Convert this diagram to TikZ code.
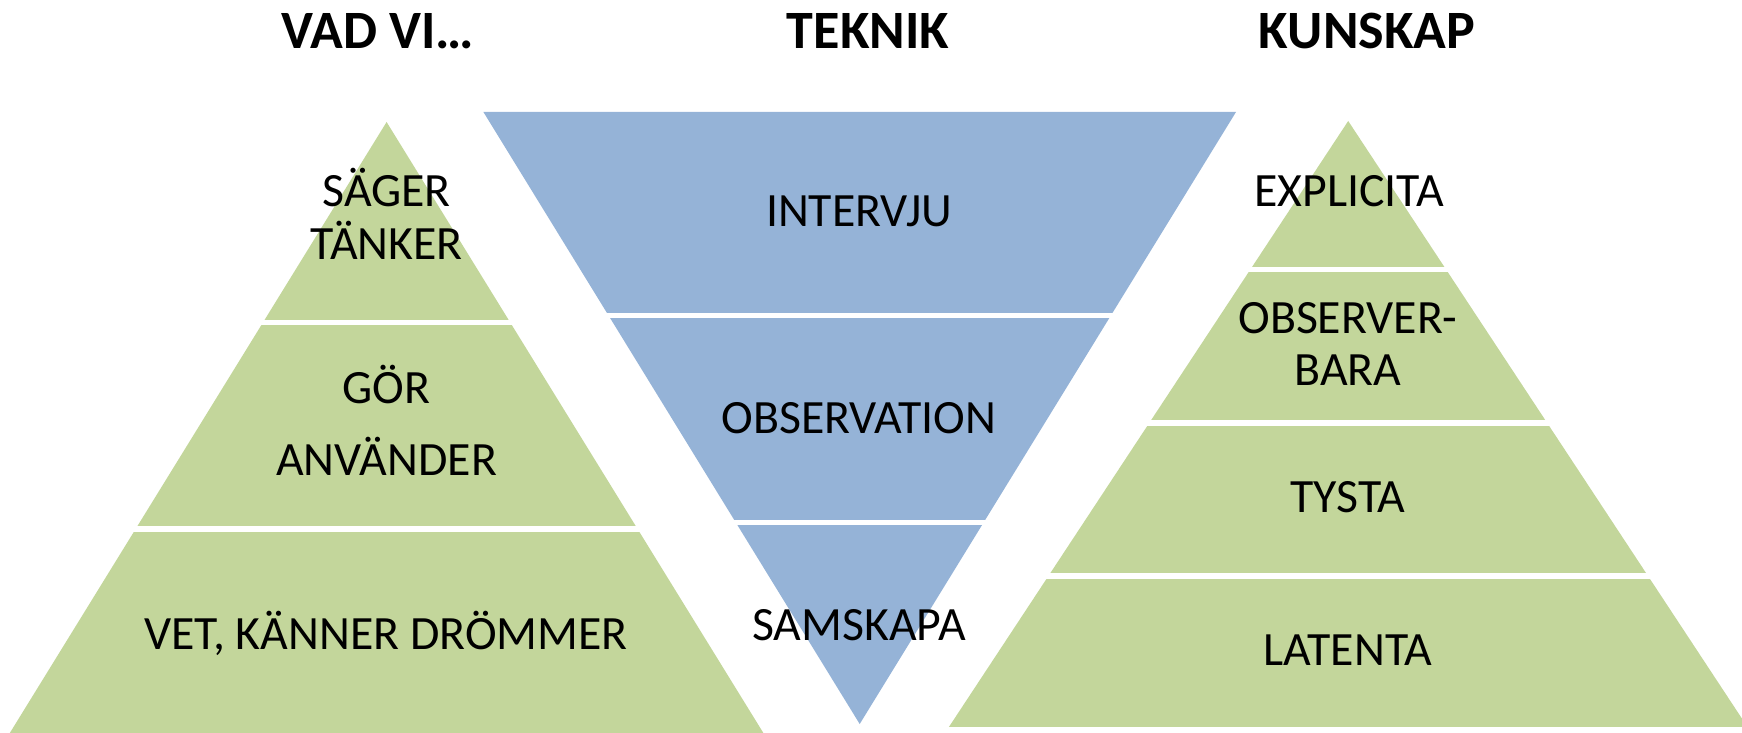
\documentclass[tikz,border=0pt]{standalone}
\usepackage{fontspec}
\setmainfont{Carlito}
\definecolor{pgreen}{HTML}{C3D69B}
\definecolor{pblue}{HTML}{95B3D7}
\begin{document}
\begin{tikzpicture}[x=1pt,y=-1pt,
  lbl/.style={anchor=base,inner sep=0pt,font=\fontsize{47.8pt}{55pt}\selectfont},
  ttl/.style={anchor=base,inner sep=0pt,font=\fontsize{54pt}{62pt}\selectfont\bfseries}]
\useasboundingbox (0,0) rectangle (1742,733);
\clip (0,0) rectangle (1742,733);
% left pyramid
\coordinate (LA) at (386.6,122);
\coordinate (LL) at (5.5,740);
\coordinate (LR) at (767.7,740);
\begin{scope}
\clip (LA) -- (LL) -- (LR) -- cycle;
\fill[pgreen] (0,100) rectangle (800,320);
\fill[pgreen] (0,325) rectangle (800,526);
\fill[pgreen] (0,532) rectangle (800,740);
\end{scope}
% blue inverted triangle
\coordinate (BL) at (483.4,112);
\coordinate (BR) at (1236,112);
\coordinate (BA) at (859.7,724);
\begin{scope}
\clip (BL) -- (BR) -- (BA) -- cycle;
\fill[pblue] (400,100) rectangle (1300,313);
\fill[pblue] (400,318) rectangle (1300,520);
\fill[pblue] (400,525) rectangle (1300,730);
\end{scope}
% right pyramid
\coordinate (RA) at (1348.2,121);
\coordinate (RL) at (948.9,727);
\coordinate (RR) at (1747.5,727);
\begin{scope}
\clip (RA) -- (RL) -- (RR) -- cycle;
\fill[pgreen] (900,100) rectangle (1760,266.5);
\fill[pgreen] (900,271.5) rectangle (1760,420);
\fill[pgreen] (900,425.5) rectangle (1760,573);
\fill[pgreen] (900,579) rectangle (1760,727);
\end{scope}
% titles
\node[ttl] (t1) at (378,49) {VAD VI…};
\node[ttl] (t2) at (868,49) {TEKNIK};
\node[ttl] (t3) at (1367,49) {KUNSKAP};
% left labels
\node[lbl] (l1a) at (386.6,206) {SÄGER};
\node[lbl] (l1b) at (386.6,259) {TÄNKER};
\node[lbl] (l2a) at (386.6,403) {GÖR};
\node[lbl] (l2b) at (386.6,475.5) {ANVÄNDER};
\node[lbl] (l3) at (386,649) {VET, KÄNNER DRÖMMER};
% middle labels
\node[lbl] (m1) at (859,226) {INTERVJU};
\node[lbl] (m2) at (859,433) {OBSERVATION};
\node[lbl] (m3) at (859,640) {SAMSKAPA};
% right labels
\node[lbl] (r1) at (1349,206) {EXPLICITA};
\node[lbl] (r2a) at (1348,333) {OBSERVER-};
\node[lbl] (r2b) at (1348,385.5) {BARA};
\node[lbl] (r3) at (1348,512.5) {TYSTA};
\node[lbl] (r4) at (1348,665) {LATENTA};
\end{tikzpicture}
\end{document}
